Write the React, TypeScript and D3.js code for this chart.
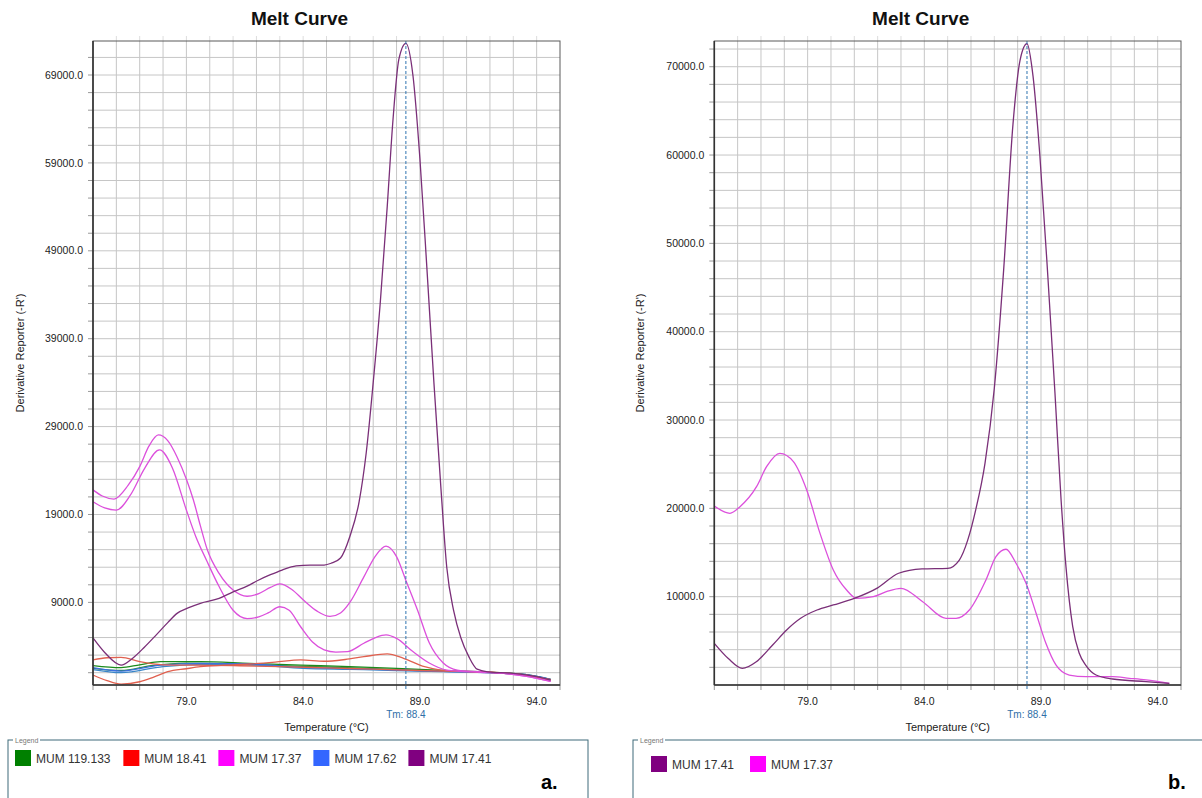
import React from "react";
import * as d3 from "d3";

type Pt = [number, number];

const chartTitle = "Melt Curve";
const xAxisLabel = "Temperature (°C)";
const yAxisLabel = "Derivative Reporter (-R')";
const tmValue = 88.4;
const tempDomain: [number, number] = [75, 95];
const xTickValues = [79, 84, 89, 94];
const aYTicks = [9000, 19000, 29000, 39000, 49000, 59000, 69000];
const bYTicks = [10000, 20000, 30000, 40000, 50000, 60000, 70000];
const aYDomain: [number, number] = [-400, 72870];
const bYDomain: [number, number] = [0, 72910];

// ---- panel a : [temperature, derivative] ----
const aPurple1741: Pt[] = [
  [75.0, 4950], [75.5, 3300], [76.2, 1870], [76.7, 2650], [77.2, 3900], [77.7, 5280],
  [78.2, 6700], [78.6, 7750], [79.1, 8400], [79.6, 8900], [80.4, 9450], [81.0, 10200],
  [81.6, 10850], [82.1, 11550], [82.6, 12150], [83.1, 12680], [83.7, 13150], [84.3, 13250],
  [84.9, 13250], [85.2, 13450], [85.6, 14050], [86.0, 16500], [86.4, 20500], [86.7, 26000],
  [87.0, 34000], [87.3, 43000], [87.6, 54000], [87.85, 64000], [88.1, 70800], [88.4, 72600],
  [88.7, 69000], [89.0, 59500], [89.3, 47000], [89.6, 34000], [89.9, 22000], [90.15, 13000],
  [90.45, 8000], [90.75, 5000], [91.1, 2800], [91.45, 1400], [91.9, 1100], [93.0, 930],
  [94.0, 550], [94.6, 150],
];
const aMagenta1737a: Pt[] = [
  [75.0, 21800], [75.4, 21100], [75.9, 20750], [76.5, 22300], [77.0, 24450], [77.4, 26800],
  [77.8, 28050], [78.2, 27400], [78.6, 25550], [79.0, 23000], [79.3, 20650], [79.6, 17700],
  [79.9, 14950], [80.4, 12300], [81.0, 10400], [81.6, 9700], [82.1, 10000], [82.6, 10700],
  [83.0, 11100], [83.5, 10500], [84.0, 9300], [84.6, 8000], [85.15, 7400], [85.6, 7800],
  [86.0, 9000], [86.6, 11900], [87.1, 14300], [87.55, 15400], [88.0, 14200], [88.4, 11500],
  [88.9, 8100], [89.4, 4400], [90.0, 2100], [90.6, 1300], [91.6, 1100], [92.5, 950],
  [93.5, 600], [94.6, 0],
];
const aMagenta1737b: Pt[] = [
  [75.0, 20450], [75.5, 19750], [76.0, 19500], [76.6, 21200], [77.2, 24200], [77.85, 26350],
  [78.4, 24300], [79.0, 19500], [79.4, 16500], [79.86, 13800], [80.4, 10800], [81.0, 8100],
  [81.6, 7150], [82.1, 7350], [82.5, 7800], [83.0, 8500], [83.4, 8100], [83.9, 6200],
  [84.4, 4500], [84.9, 3600], [85.4, 3350], [85.9, 3400], [86.6, 4350], [87.1, 5000],
  [87.55, 5300], [88.0, 4900], [88.7, 3400], [89.4, 2100], [90.15, 1300], [91.6, 1050],
  [92.5, 950], [93.5, 600], [94.6, 0],
];
const aRed1841a: Pt[] = [
  [75.0, 2450], [75.6, 2700], [76.2, 2750], [77.0, 2250], [78.0, 1900], [79.5, 1850],
  [81.0, 1800], [83.0, 1700], [85.0, 1550], [87.0, 1400], [89.0, 1250], [90.5, 1150],
  [92.0, 1050], [93.5, 700], [94.6, 150],
];
const aRed1841b: Pt[] = [
  [75.0, 740], [75.6, 100], [76.2, -290], [77.0, -30], [77.6, 500], [78.2, 1110],
  [79.0, 1450], [79.6, 1680], [80.6, 1850], [81.7, 1990], [82.8, 2200], [83.9, 2450],
  [84.9, 2300], [85.8, 2500], [86.6, 2820], [87.6, 3130], [88.3, 2640], [89.2, 1680],
  [89.9, 1300], [91.0, 1150], [92.0, 1050], [93.5, 750], [94.6, 200],
];
const aGreen119133a: Pt[] = [
  [75.0, 1800], [76.2, 1570], [77.0, 1900], [77.9, 2250], [79.6, 2250], [81.7, 2060],
  [83.9, 1870], [86.0, 1700], [88.0, 1500], [90.0, 1250], [92.0, 1050], [93.5, 800],
  [94.6, 250],
];
const aGreen119133b: Pt[] = [
  [75.0, 1500], [76.2, 1250], [77.5, 1800], [79.0, 2100], [81.0, 2000], [83.0, 1800],
  [85.0, 1650], [87.0, 1450], [89.0, 1250], [91.0, 1100], [92.5, 950], [93.8, 650],
  [94.6, 200],
];
const aBlue1762a: Pt[] = [
  [75.0, 1570], [76.2, 1190], [77.9, 1870], [79.6, 2060], [81.7, 1990], [83.9, 1610],
  [86.0, 1450], [88.0, 1300], [90.0, 1150], [92.0, 1000], [93.5, 800], [94.6, 250],
];
const aBlue1762b: Pt[] = [
  [75.0, 1350], [76.2, 1000], [78.0, 1700], [80.0, 1950], [82.0, 1850], [84.0, 1500],
  [86.0, 1380], [88.0, 1250], [90.0, 1120], [92.0, 1000], [93.5, 750], [94.6, 220],
];

// ---- panel b ----
const bPurple1741: Pt[] = [
  [75.0, 4720], [75.6, 3000], [76.2, 1890], [76.8, 2640], [77.5, 4530], [78.1, 6230],
  [78.7, 7550], [79.4, 8490], [80.1, 9060], [81.0, 9810], [82.0, 11000], [82.9, 12650],
  [83.9, 13140], [85.0, 13210], [85.5, 14150], [85.86, 16400], [86.2, 19800], [86.6, 25100],
  [87.0, 33600], [87.4, 47000], [87.8, 63500], [88.1, 70700], [88.4, 72600], [88.66, 68900],
  [88.95, 60000], [89.3, 46000], [89.6, 33000], [89.86, 21000], [90.07, 13400], [90.36, 6600],
  [90.64, 3590], [90.93, 2190], [91.36, 1130], [92.07, 680], [93.5, 380], [94.5, 190],
];
const bMagenta1737: Pt[] = [
  [75.0, 20270], [75.67, 19440], [76.1, 20190], [76.81, 22450], [77.24, 24720], [77.81, 26230],
  [78.39, 25290], [78.96, 22080], [79.53, 17170], [80.1, 13020], [80.67, 10750], [81.1, 9810],
  [81.81, 10000], [82.4, 10600], [83.0, 10950], [83.93, 9430], [84.93, 7550], [85.36, 7550],
  [85.93, 8490], [86.64, 11890], [87.07, 14530], [87.5, 15370], [87.93, 13780], [88.36, 11520],
  [88.79, 8120], [89.21, 4720], [89.64, 2270], [90.21, 1130], [90.93, 940], [92.07, 940],
  [92.79, 760], [93.5, 570], [94.5, 190],
];

const colGreen = "#008000";
const colRed = "#ff0000";
const colMagenta = "#ff00ff";
const colBlue = "#3366ff";
const colPurple = "#800080";

const aLegend = [
  { name: "MUM 119.133", color: colGreen },
  { name: "MUM 18.41", color: colRed },
  { name: "MUM 17.37", color: colMagenta },
  { name: "MUM 17.62", color: colBlue },
  { name: "MUM 17.41", color: colPurple },
];
const bLegend = [
  { name: "MUM 17.41", color: colPurple },
  { name: "MUM 17.37", color: colMagenta },
];

const aSeries = [
  { pts: aGreen119133b, stroke: "#2a8a3a" },
  { pts: aBlue1762b, stroke: "#3a86c8" },
  { pts: aGreen119133a, stroke: "#1c8a1c" },
  { pts: aBlue1762a, stroke: "#3b6fe0" },
  { pts: aRed1841a, stroke: "#e0604f" },
  { pts: aRed1841b, stroke: "#e0604f" },
  { pts: aMagenta1737a, stroke: "#dc50dc" },
  { pts: aMagenta1737b, stroke: "#dc50dc" },
  { pts: aPurple1741, stroke: "#7a2f78" },
];
const bSeries = [
  { pts: bMagenta1737, stroke: "#dc50dc" },
  { pts: bPurple1741, stroke: "#7a2f78" },
];

const FONT = "'Liberation Sans', Arial, sans-serif";

// rough Arial advance widths (per 1000 em)
const textWidth = (s: string, size: number) =>
  (d3.sum(s.split(""), (c) =>
    c === "M" ? 833 : c === "U" ? 722 : c === " " || c === "." ? 278 : 556
  ) * size) / 1000;

const PLOT_TOP = 41;
const PLOT_BOTTOM = 685;

function MeltPanel(props: {
  x0: number; x1: number; yDomain: [number, number]; yTicks: number[]; gridStart: number;
  series: { pts: Pt[]; stroke: string }[]; legend: { name: string; color: string }[];
  boxX0: number; boxX1: number; legendX: number; legendY: number; legendGap: number;
  letter: string; letterX: number; yLabelX: number;
}) {
  const { x0, x1, yDomain, yTicks, gridStart, series, legend } = props;
  const x = d3.scaleLinear().domain(tempDomain).range([x0, x1]);
  const y = d3.scaleLinear().domain(yDomain).range([PLOT_BOTTOM, PLOT_TOP]);
  const vGrid = d3.range(76, 95);
  const hGrid = d3.range(gridStart, yDomain[1], 2000);
  const line = d3.line<Pt>().x((d) => x(d[0])).y((d) => y(d[1])).curve(d3.curveMonotoneX);
  const cx = (x0 + x1) / 2;

  let lx = props.legendX;
  const legendItems = legend.map((l) => {
    const item = { ...l, x: lx };
    lx += 16 + 5 + textWidth(l.name, 12) + props.legendGap;
    return item;
  });

  return (
    <g fontFamily={FONT}>
      <text x={cx - 27} y={25} textAnchor="middle" fontSize={19} fontWeight="bold" fill="#111">
        {chartTitle}
      </text>

      {/* grid */}
      {vGrid.map((t) => (
        <g key={"v" + t}>
          <line x1={x(t)} x2={x(t)} y1={PLOT_TOP} y2={PLOT_BOTTOM} stroke="#c6c6c6" />
          <line x1={x(t)} x2={x(t)} y1={PLOT_TOP - 5} y2={PLOT_TOP} stroke="#dddddd" />
        </g>
      ))}
      {hGrid.map((v) => (
        <line key={"h" + v} x1={x0} x2={x1} y1={y(v)} y2={y(v)} stroke="#c6c6c6" />
      ))}

      {/* ticks */}
      {hGrid.map((v) => (
        <line key={"yt" + v} x1={x0 - 5} x2={x0} y1={y(v)} y2={y(v)} stroke="#999" />
      ))}
      {d3.range(75, 96).map((t) => (
        <line key={"xt" + t} x1={x(t)} x2={x(t)} y1={PLOT_BOTTOM} y2={PLOT_BOTTOM + 5} stroke="#999" />
      ))}

      {/* curves */}
      {series.map((s, i) => (
        <path key={i} d={line(s.pts) || ""} fill="none" stroke={s.stroke} strokeWidth={1.3} />
      ))}

      {/* Tm marker */}
      <line x1={x(tmValue)} x2={x(tmValue)} y1={PLOT_TOP} y2={PLOT_BOTTOM + 5}
        stroke="#2f74b0" strokeDasharray="3,2" strokeWidth={1} />

      {/* frame */}
      <rect x={x0} y={PLOT_TOP} width={x1 - x0} height={PLOT_BOTTOM - PLOT_TOP} fill="none" stroke="#5a5a5a" />
      <line x1={x0} x2={x0} y1={PLOT_TOP} y2={PLOT_BOTTOM} stroke="#333" strokeWidth={1.6} />
      <line x1={x0} x2={x1} y1={PLOT_BOTTOM} y2={PLOT_BOTTOM} stroke="#333" strokeWidth={1.6} />

      {/* labels */}
      {yTicks.map((v) => (
        <text key={"yl" + v} x={x0 - 10} y={y(v)} dy="0.35em" textAnchor="end" fontSize={10.5} fill="#222">
          {d3.format(".1f")(v)}
        </text>
      ))}
      {xTickValues.map((t) => (
        <text key={"xl" + t} x={x(t)} y={705} textAnchor="middle" fontSize={10.5} fill="#222">
          {d3.format(".1f")(t)}
        </text>
      ))}
      <text x={x(tmValue)} y={718} textAnchor="middle" fontSize={10} fill="#2f6fa8">
        {"Tm: " + tmValue.toFixed(1)}
      </text>
      <text x={cx} y={731} textAnchor="middle" fontSize={11} fill="#222">
        {xAxisLabel}
      </text>
      <text transform={`translate(${props.yLabelX},353) rotate(-90)`} textAnchor="middle" fontSize={11} fill="#222">
        {yAxisLabel}
      </text>

      {/* legend */}
      <rect x={props.boxX0} y={740} width={props.boxX1 - props.boxX0} height={80} fill="none" stroke="#3e6b7a" />
      <rect x={props.boxX0 + 5} y={736} width={27} height={8} fill="#fff" />
      <text x={props.boxX0 + 7} y={743} fontSize={7} fill="#777">Legend</text>
      {legendItems.map((l) => (
        <g key={l.name}>
          <rect x={l.x} y={props.legendY} width={16} height={16} fill={l.color} />
          <text x={l.x + 21} y={props.legendY + 13} fontSize={12} fill="#333">{l.name}</text>
        </g>
      ))}
      <text x={props.letterX} y={789} fontSize={20} fontWeight="bold" fill="#000">{props.letter}</text>
    </g>
  );
}

export default function App() {
  return (
    <svg width={1202} height={798} style={{ position: "absolute", left: 0, top: 0, background: "#fff" }}>
      <rect width={1202} height={798} fill="#fff" />
      <MeltPanel x0={93} x1={560} yDomain={aYDomain} yTicks={aYTicks} gridStart={1000}
        series={aSeries} legend={aLegend} boxX0={8} boxX1={588} legendX={15} legendY={750}
        legendGap={12} letter="a." letterX={541} yLabelX={24} />
      <MeltPanel x0={714.3} x1={1181} yDomain={bYDomain} yTicks={bYTicks} gridStart={2000}
        series={bSeries} legend={bLegend} boxX0={633} boxX1={1210} legendX={651} legendY={756}
        legendGap={16} letter="b." letterX={1168} yLabelX={644} />
    </svg>
  );
}
